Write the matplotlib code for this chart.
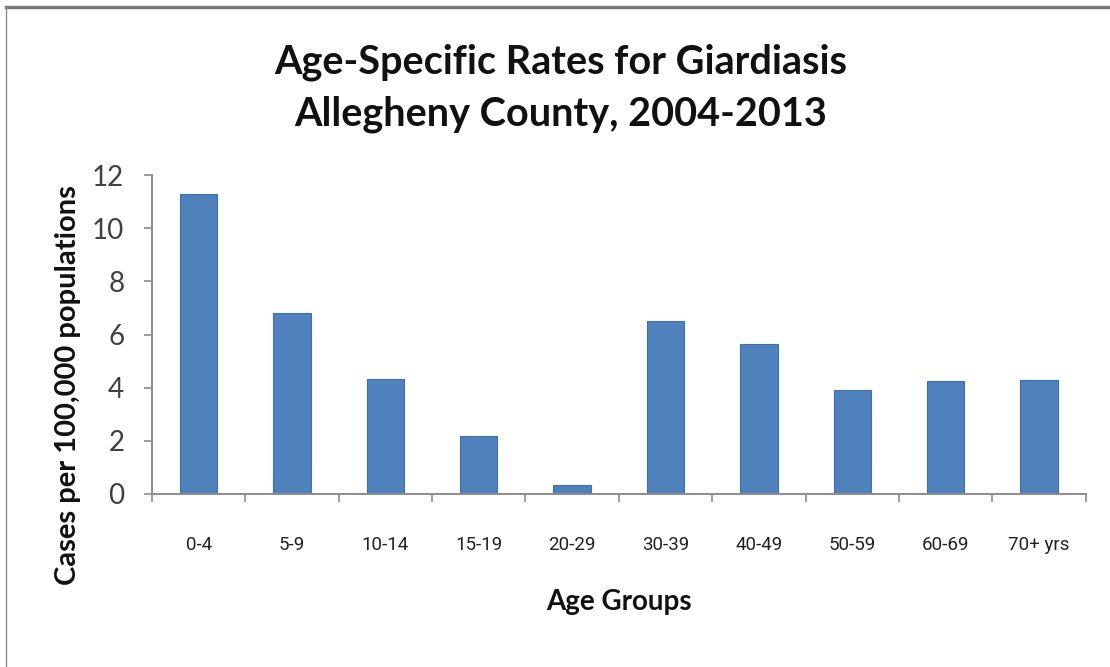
import matplotlib

matplotlib.use("Agg")
import matplotlib.pyplot as plt
from matplotlib.lines import Line2D
import numpy as np

AGE_GROUPS = ["0-4", "5-9", "10-14", "15-19", "20-29", "30-39", "40-49", "50-59", "60-69", "70+ yrs"]
RATES = [11.3, 6.8, 4.33, 2.2, 0.35, 6.5, 5.65, 3.92, 4.25, 4.3]
Y_TICKS = [0, 2, 4, 6, 8, 10, 12]

BAR_COLOR = "#4F81BD"
AXIS_COLOR = "#8C8C8C"
TITLE_FONT = "Lato"

fig = plt.figure(figsize=(11.1, 6.67), dpi=100)
ax = fig.add_axes([0.137, 0.2594, 0.841, 0.4782])

x = np.arange(len(AGE_GROUPS))
ax.bar(x, RATES, width=0.4, color=BAR_COLOR, edgecolor="#3F70AD", linewidth=0.8, zorder=2)

ax.set_xlim(-0.5, len(AGE_GROUPS) - 0.5)
ax.set_ylim(0, 12)
ax.set_yticks(Y_TICKS)
ax.set_yticklabels([str(v) for v in Y_TICKS], family=TITLE_FONT, fontsize=20, color="#404040")
ax.set_xticks(x)
ax.set_xticklabels(AGE_GROUPS, family="Roboto", fontsize=13.5, color="#222222")
ax.set_xticks(np.arange(-0.5, len(AGE_GROUPS)), minor=True)

ax.tick_params(axis="x", which="major", length=0, pad=30)
ax.tick_params(axis="x", which="minor", length=6, width=1.2, color=AXIS_COLOR, direction="out")
ax.tick_params(axis="y", length=6, width=1.2, color=AXIS_COLOR, direction="out", pad=14)

for side in ["top", "right"]:
    ax.spines[side].set_visible(False)
for side in ["left", "bottom"]:
    ax.spines[side].set_color(AXIS_COLOR)
    ax.spines[side].set_linewidth(1.4)

ax.set_ylabel("Cases per 100,000 populations", family=TITLE_FONT, fontweight="bold",
              fontsize=21, color="#111111", va="center")
ax.yaxis.set_label_coords(-0.09, 0.342)
ax.set_xlabel("Age Groups", family=TITLE_FONT, fontweight="bold", fontsize=20,
              color="#111111", va="center")
ax.xaxis.set_label_coords(0.5, -0.339)

fig.text(0.505, 0.907, "Age-Specific Rates for Giardiasis", ha="center", va="center",
         family=TITLE_FONT, fontweight="bold", fontsize=28.5, color="#111111")
fig.text(0.505, 0.828, "Allegheny County, 2004-2013", ha="center", va="center",
         family=TITLE_FONT, fontweight="bold", fontsize=28.5, color="#111111")

# frame lines from the original screenshot
fig.add_artist(Line2D([0.005, 1.0], [0.989, 0.989], transform=fig.transFigure,
                      color="#7A7A7A", linewidth=2.5))
fig.add_artist(Line2D([0.005, 0.005], [0.0, 0.989], transform=fig.transFigure,
                      color="#8A8A8A", linewidth=1.0))

fig.savefig("out.png", dpi=100, facecolor="white")
